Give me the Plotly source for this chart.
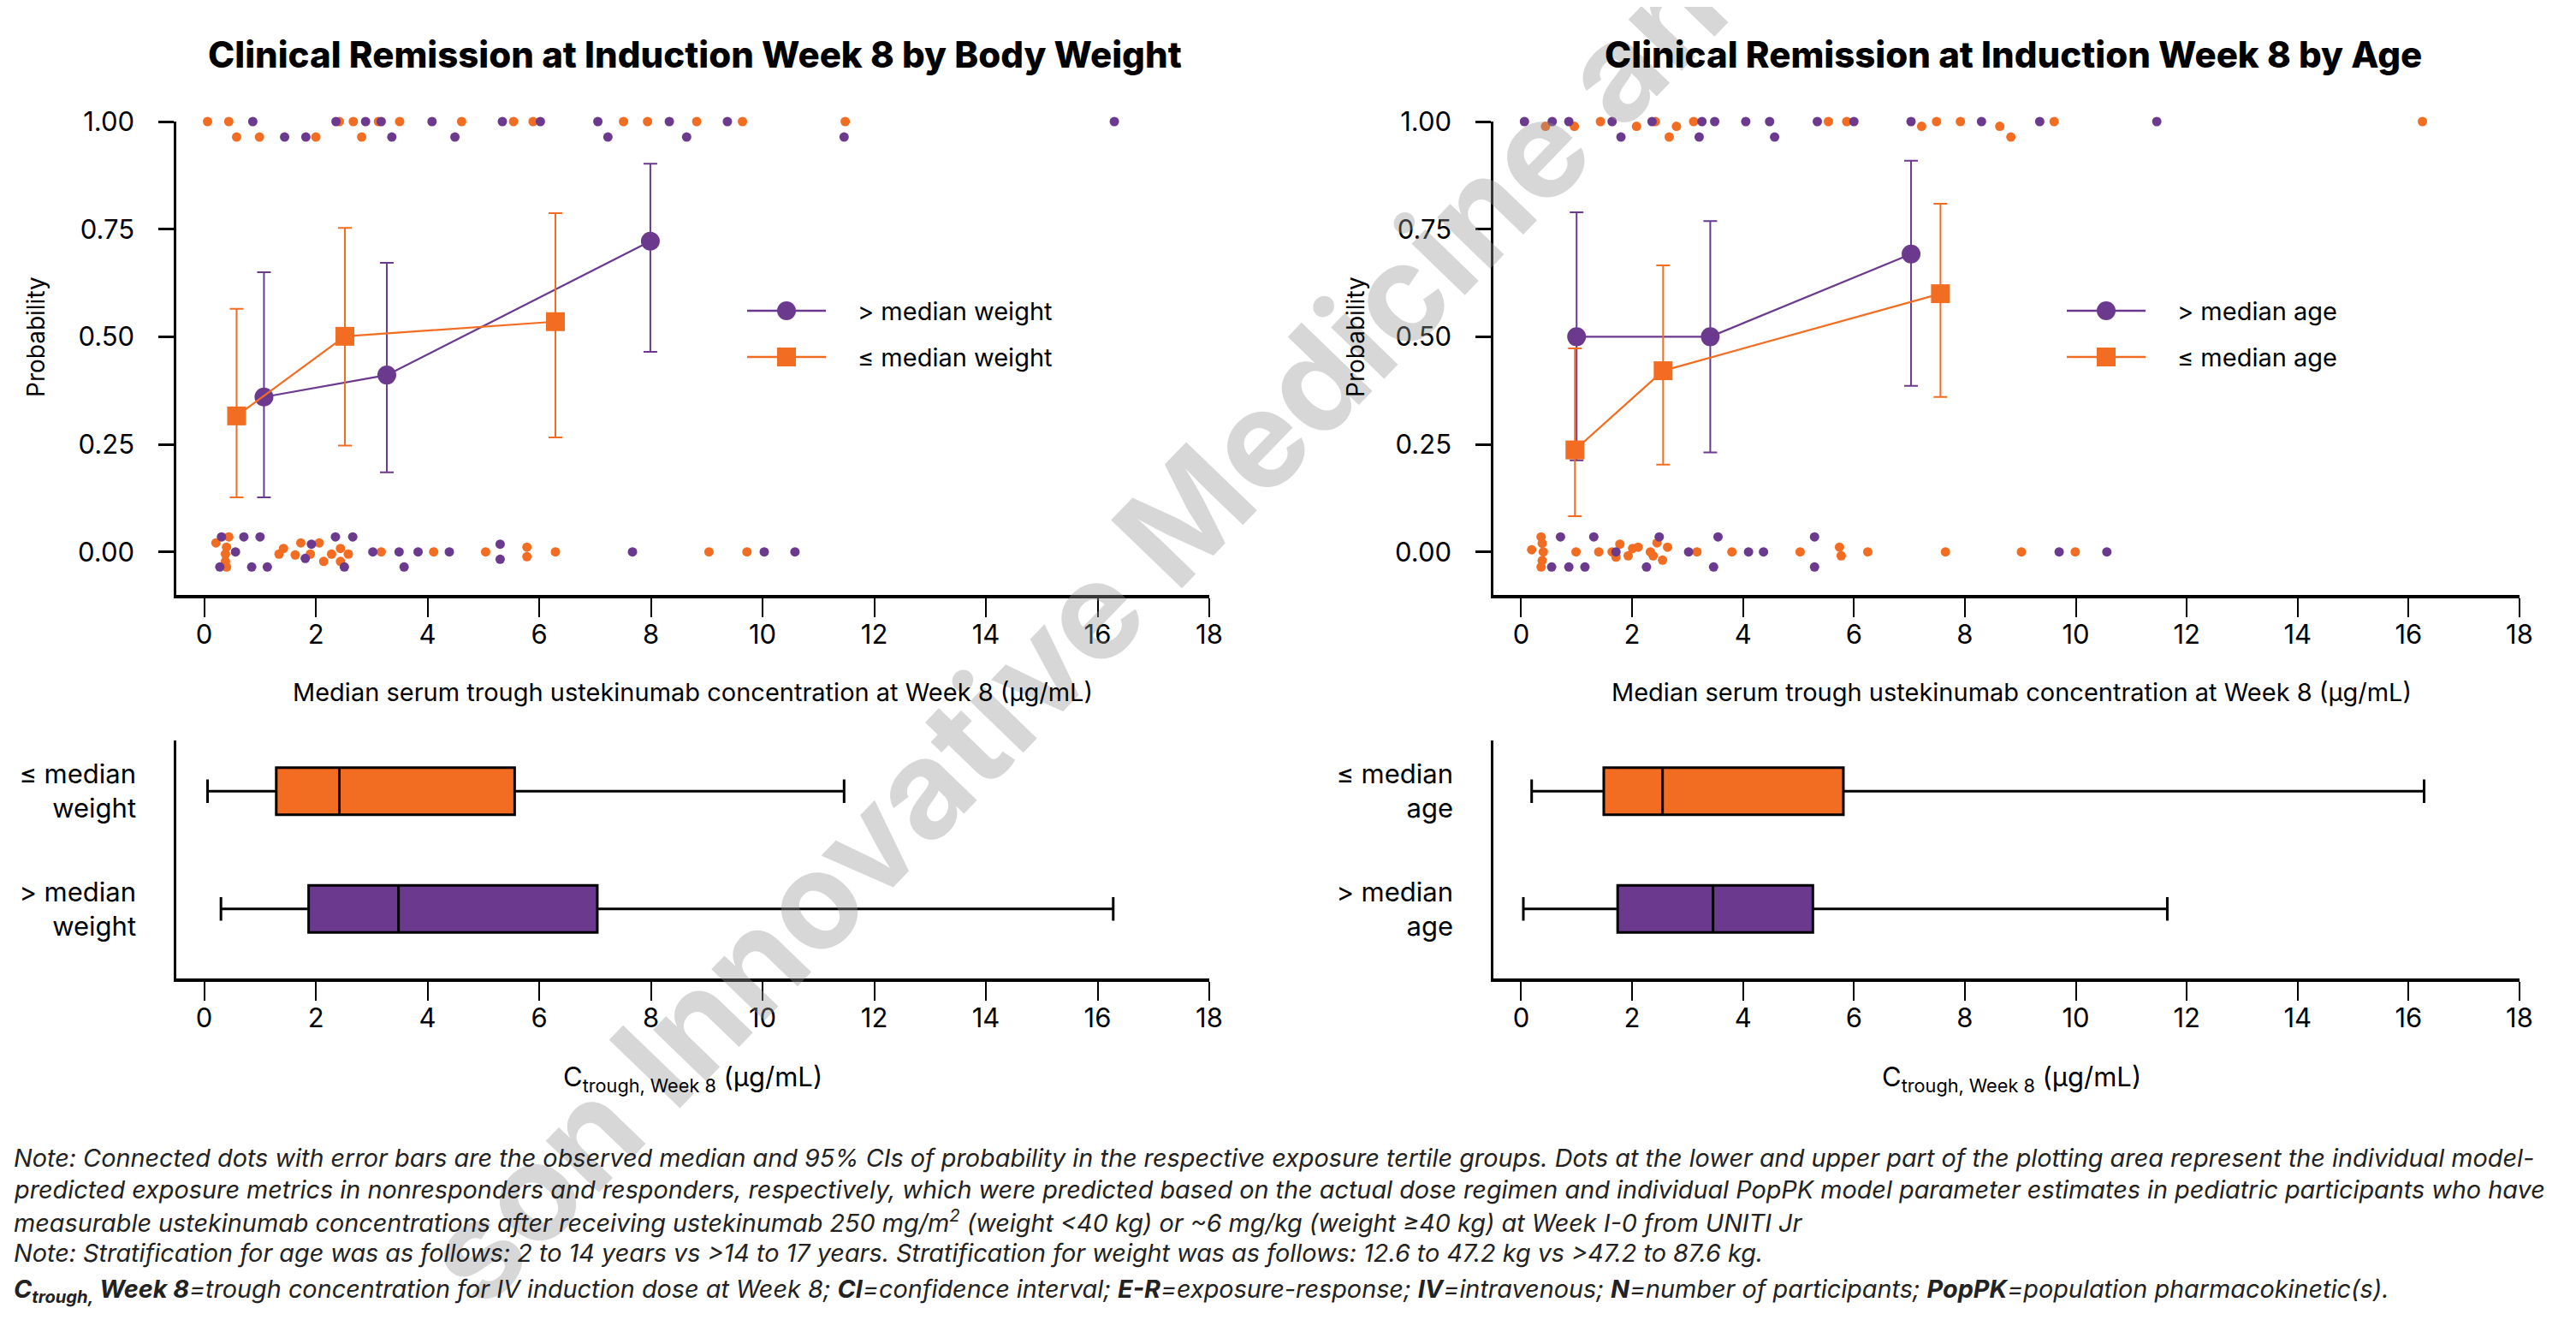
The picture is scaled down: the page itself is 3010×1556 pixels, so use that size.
import plotly.graph_objects as go

PURPLE = "#6B3A8F"
ORANGE = "#F26D21"
FONT = "Inter"

# ---------------- data ----------------
x_ticks = [0, 2, 4, 6, 8, 10, 12, 14, 16, 18]
y_ticks = [0, 0.25, 0.5, 0.75, 1.0]
y_ticktext = ["0.00", "0.25", "0.50", "0.75", "1.00"]

# Body weight: observed probability (median) and 95% CI per exposure tertile
wt_hi_x = [1.07, 3.27, 7.99]
wt_hi_p = [0.360, 0.411, 0.722]
wt_hi_lo = [0.127, 0.185, 0.465]
wt_hi_up = [0.650, 0.672, 0.902]
wt_lo_x = [0.58, 2.52, 6.29]
wt_lo_p = [0.316, 0.501, 0.535]
wt_lo_lo = [0.127, 0.247, 0.266]
wt_lo_up = [0.565, 0.753, 0.787]

# Age
age_hi_x = [1.00, 3.41, 7.03]
age_hi_p = [0.500, 0.500, 0.692]
age_hi_lo = [0.213, 0.231, 0.386]
age_hi_up = [0.789, 0.769, 0.909]
age_lo_x = [0.97, 2.56, 7.56]
age_lo_p = [0.237, 0.421, 0.600]
age_lo_lo = [0.083, 0.203, 0.360]
age_lo_up = [0.473, 0.666, 0.809]

# Individual predicted exposures (x) and vertical jitter offsets
wt_lo_resp_x = [0.53, 1.06, 2.10, 2.73, 0.06, 0.44, 2.42, 2.67, 3.12, 3.50, 4.61, 5.54, 5.89,
                7.51, 7.94, 8.82, 9.64, 11.48, 0.58, 0.99, 2.00, 2.82]
wt_lo_resp_j = [0.036, 0.036, 0.036, 0.036, 0, 0, 0, 0, 0, 0, 0, 0, 0,
                0, 0, 0, 0, 0, -0.036, -0.036, -0.036, -0.036]
wt_hi_resp_x = [1.63, 2.00, 3.26, 4.71, 7.10, 8.85, 11.67, 0.87, 2.36, 2.89, 3.17, 4.08, 5.34,
                6.02, 7.05, 8.33, 9.37, 16.30, 1.44, 1.82, 3.36, 4.49, 7.23, 8.64, 11.46]
wt_hi_resp_j = [0.036, 0.036, 0.036, 0.036, 0.036, 0.036, 0.036, 0, 0, 0, 0, 0, 0,
                0, 0, 0, 0, 0, -0.036, -0.036, -0.036, -0.036, -0.036, -0.036, -0.036]
wt_hi_non_x = [0.31, 0.71, 1.00, 2.35, 2.66, 1.92, 5.30, 0.56, 1.81, 3.02, 3.49, 3.83, 4.39,
               7.67, 10.03, 10.58, 0.28, 0.85, 1.13, 2.51, 3.58, 5.30]
wt_hi_non_j = [0.035, 0.035, 0.035, 0.035, 0.035, 0.018, 0.018, 0, -0.015, 0, 0, 0, 0,
               0, 0, 0, -0.035, -0.035, -0.035, -0.035, -0.035, -0.017]
wt_lo_non_x = [0.44, 0.40, 0.38, 0.38, 0.40, 0.21, 1.73, 2.06, 5.78, 5.78, 1.34, 1.42, 1.63,
               1.90, 2.14, 2.28, 2.44, 2.58, 2.44, 3.17, 4.11, 5.04, 6.29, 9.04, 9.72]
wt_lo_non_j = [0.035, 0.011, -0.005, -0.022, -0.035, 0.021, 0.021, 0.021, 0.011, -0.011, -0.005, 0.008, -0.007,
               -0.005, -0.022, -0.005, 0.008, -0.005, -0.022, 0, 0, 0, 0, 0, 0]

age_hi_resp_x = [0.06, 0.56, 0.86, 1.64, 1.80, 1.99, 2.36, 3.21, 3.26, 3.35, 3.49, 4.05, 4.48,
                 4.57, 4.69, 5.34, 6.00, 7.03, 8.30, 9.35, 11.46, 11.63]
age_hi_resp_j = [0, 0, 0, 0, -0.036, 0.036, 0, -0.036, 0, 0.036, 0, 0, 0,
                 -0.036, 0.036, 0, 0, 0, 0, 0, 0, 0.036]
age_lo_resp_x = [0.50, 0.44, 0.96, 1.05, 1.43, 1.99, 2.08, 2.42, 2.73, 2.67, 2.80, 2.88, 3.11,
                 5.54, 5.87, 7.08, 7.22, 7.49, 7.92, 8.63, 8.80, 8.83, 9.61, 16.25]
age_lo_resp_j = [0.013, -0.011, -0.011, 0.013, 0, 0.013, -0.011, 0, 0.036, -0.036, -0.011, 0.013, 0,
                 0, 0, 0.013, -0.011, 0, 0, -0.011, 0.013, -0.036, 0, 0]
age_hi_non_x = [0.71, 0.55, 0.86, 1.15, 1.31, 1.71, 2.26, 2.49, 3.02, 3.47, 3.55, 4.10, 4.37,
                5.29, 5.29, 9.70, 10.56]
age_hi_non_j = [0.035, -0.035, -0.035, -0.035, 0.035, 0, -0.035, 0.035, 0, -0.035, 0.035, 0, 0,
                0.035, -0.035, 0, 0]
age_lo_non_x = [0.19, 0.36, 0.38, 0.40, 0.38, 0.36, 0.99, 1.40, 1.64, 1.71, 1.78, 1.93, 2.01,
                2.11, 2.33, 2.38, 2.45, 2.55, 2.64, 3.17, 3.80, 5.03, 5.74, 5.77, 6.25, 7.65, 9.02, 9.99]
age_lo_non_j = [0.005, 0.035, 0.02, 0, -0.02, -0.035, 0, 0, 0, -0.012, 0.018, -0.009, 0.008,
                0.011, 0, -0.009, 0.021, -0.019, 0.011, 0, 0, 0, 0.011, -0.009, 0, 0, 0, 0]

# Box plot summaries: [min, Q1, median, Q3, max]
wt_box_lo = [0.06, 1.29, 2.42, 5.56, 11.46]
wt_box_hi = [0.30, 1.87, 3.48, 7.04, 16.28]
age_box_lo = [0.19, 1.49, 2.55, 5.81, 16.28]
age_box_hi = [0.04, 1.74, 3.46, 5.26, 11.65]

box_pos = [1, 2]
wt_box_labels = ["&gt; median<br>weight", "≤ median<br>weight"]
age_box_labels = ["&gt; median<br>age", "≤ median<br>age"]

wt_legend = ["&gt; median weight", "≤ median weight"]
age_legend = ["&gt; median age", "≤ median age"]

# ---------------- figure ----------------
W, H = 3010, 1556
OFF = 8  # page body margin offset
fig = go.Figure()


def px_x(v):
    return (v - OFF) / W


def px_y(v):
    return 1 - (v - OFF) / H


def add_panel(xa, ya, hi_x, hi_p, hi_lo, hi_up, lo_x, lo_p, lo_lo, lo_up, names,
              hr_x, hr_j, lr_x, lr_j, hn_x, hn_j, ln_x, ln_j):
    dot = dict(size=11, line=dict(width=0))
    for xs, js, base, col in ((lr_x, lr_j, 1, ORANGE), (hr_x, hr_j, 1, PURPLE),
                              (ln_x, ln_j, 0, ORANGE), (hn_x, hn_j, 0, PURPLE)):
        fig.add_trace(go.Scatter(x=xs, y=[base + j for j in js], mode="markers", xaxis=xa, yaxis=ya,
                                 marker=dict(color=col, **dot), showlegend=False, cliponaxis=False,
                                 hoverinfo="skip"))
    fig.add_trace(go.Scatter(
        x=hi_x, y=hi_p, mode="lines+markers", name=names[0], xaxis=xa, yaxis=ya,
        showlegend=False, cliponaxis=False,
        line=dict(color=PURPLE, width=2.2),
        marker=dict(symbol="circle", size=22, color=PURPLE),
        error_y=dict(type="data", symmetric=False,
                     array=[u - p for u, p in zip(hi_up, hi_p)],
                     arrayminus=[p - l for l, p in zip(hi_lo, hi_p)],
                     color=PURPLE, thickness=2, width=8)))
    fig.add_trace(go.Scatter(
        x=lo_x, y=lo_p, mode="lines+markers", name=names[1], xaxis=xa, yaxis=ya,
        showlegend=False, cliponaxis=False,
        line=dict(color=ORANGE, width=2.2),
        marker=dict(symbol="square", size=22, color=ORANGE),
        error_y=dict(type="data", symmetric=False,
                     array=[u - p for u, p in zip(lo_up, lo_p)],
                     arrayminus=[p - l for l, p in zip(lo_lo, lo_p)],
                     color=ORANGE, thickness=2, width=8)))


add_panel("x", "y", wt_hi_x, wt_hi_p, wt_hi_lo, wt_hi_up, wt_lo_x, wt_lo_p, wt_lo_lo, wt_lo_up,
          wt_legend, wt_hi_resp_x, wt_hi_resp_j, wt_lo_resp_x, wt_lo_resp_j,
          wt_hi_non_x, wt_hi_non_j, wt_lo_non_x, wt_lo_non_j)
add_panel("x2", "y2", age_hi_x, age_hi_p, age_hi_lo, age_hi_up, age_lo_x, age_lo_p, age_lo_lo, age_lo_up,
          age_legend, age_hi_resp_x, age_hi_resp_j, age_lo_resp_x, age_lo_resp_j,
          age_hi_non_x, age_hi_non_j, age_lo_non_x, age_lo_non_j)


def add_box(xa, ya, stats, pos, color):
    fig.add_trace(go.Box(
        y=[pos], q1=[stats[1]], median=[stats[2]], q3=[stats[3]],
        lowerfence=[stats[0]], upperfence=[stats[4]], orientation="h",
        xaxis=xa, yaxis=ya, fillcolor=color, line=dict(color="black", width=3),
        width=0.4, whiskerwidth=0.5, boxpoints=False, showlegend=False, hoverinfo="skip"))


add_box("x3", "y3", wt_box_hi, box_pos[0], PURPLE)
add_box("x3", "y3", wt_box_lo, box_pos[1], ORANGE)
add_box("x4", "y4", age_box_hi, box_pos[0], PURPLE)
add_box("x4", "y4", age_box_lo, box_pos[1], ORANGE)

# ---------------- axes ----------------
xl = [px_x(206), px_x(1413)]
xr = [px_x(1745), px_x(2944)]
yt = [px_y(695), px_y(142)]
yb = [px_y(1143), px_y(865)]

tickfont = dict(family=FONT, size=31, color="black")
xcommon = dict(range=[-0.5, 18], tickmode="array", tickvals=x_ticks, ticks="outside", ticklen=22,
               tickwidth=2, tickcolor="black", showline=True, linewidth=4, linecolor="black",
               showgrid=False, zeroline=False, tickfont=tickfont, fixedrange=True, automargin=False,
               ticklabelstandoff=-6)
ycommon = dict(ticks="outside", ticklen=18, tickwidth=3, tickcolor="black", showline=True,
               linewidth=2.5, linecolor="black", showgrid=False, zeroline=False,
               tickfont=tickfont, fixedrange=True, automargin=False)
yboxcommon = dict(ycommon, ticks="", ticklen=0, ticklabelstandoff=38, range=[0.41, 2.43],
                  tickmode="array", tickvals=box_pos)

fig.update_layout(
    template="none",
    xaxis=dict(domain=xl, anchor="y", **xcommon),
    yaxis=dict(domain=yt, anchor="x", range=[-0.1, 1.0], tickmode="array", tickvals=y_ticks,
               ticktext=y_ticktext, ticklabelstandoff=22, **ycommon),
    xaxis2=dict(domain=xr, anchor="y2", **xcommon),
    yaxis2=dict(domain=yt, anchor="x2", range=[-0.1, 1.0], tickmode="array", tickvals=y_ticks,
                ticktext=y_ticktext, ticklabelstandoff=22, **ycommon),
    xaxis3=dict(domain=xl, anchor="y3", **xcommon),
    yaxis3=dict(domain=yb, anchor="x3", ticktext=wt_box_labels, **yboxcommon),
    xaxis4=dict(domain=xr, anchor="y4", **xcommon),
    yaxis4=dict(domain=yb, anchor="x4", ticktext=age_box_labels, **yboxcommon),
    showlegend=False,
)

# ---------------- annotations & legend symbols ----------------
ann = []
shapes = []

# watermark (first, so other texts sit above it)
ann.append(dict(text="son Innovative Medicine and", x=px_x(1288), y=px_y(700), xref="paper", yref="paper",
                xanchor="center", yanchor="middle", showarrow=False, textangle=-46,
                font=dict(family=FONT, size=158, color="rgba(150,150,150,0.38)", weight=700)))

title_font = dict(family=FONT, size=42, color="black", weight=800)
ann.append(dict(text="Clinical Remission at Induction Week 8 by Body Weight", x=px_x(812), y=px_y(63),
                xref="paper", yref="paper", xanchor="center", yanchor="middle", showarrow=False, font=title_font))
ann.append(dict(text="Clinical Remission at Induction Week 8 by Age", x=px_x(2352), y=px_y(63),
                xref="paper", yref="paper", xanchor="center", yanchor="middle", showarrow=False, font=title_font))
for xc in (42, 1584):
    ann.append(dict(text="Probability", x=px_x(xc), y=px_y(394), xref="paper", yref="paper",
                    xanchor="center", yanchor="middle", showarrow=False, textangle=-90,
                    font=dict(family=FONT, size=28, color="black")))
for xc in (809, 2350):
    ann.append(dict(text="Median serum trough ustekinumab concentration at Week 8 (µg/mL)",
                    x=px_x(xc), y=px_y(808), xref="paper", yref="paper", xanchor="center", yanchor="middle",
                    showarrow=False, font=dict(family=FONT, size=29, color="black")))
    ann.append(dict(text="C<sub>trough, Week 8</sub> (µg/mL)",
                    x=px_x(xc), y=px_y(1260), xref="paper", yref="paper", xanchor="center", yanchor="middle",
                    showarrow=False, font=dict(family=FONT, size=31, color="black")))

# legends (drawn manually: long line with large centred marker)
for x0, labels in ((873, wt_legend), (2415, age_legend)):
    for (yc, col, sym), lab in zip(((363, PURPLE, "circle"), (417, ORANGE, "square")), labels):
        shapes.append(dict(type="line", xref="paper", yref="paper", x0=px_x(x0), x1=px_x(x0 + 92),
                           y0=px_y(yc), y1=px_y(yc), line=dict(color=col, width=2.5)))
        cx = x0 + 46
        r = 11
        shapes.append(dict(type="circle" if sym == "circle" else "rect", xref="paper", yref="paper",
                           x0=px_x(cx - r), x1=px_x(cx + r), y0=px_y(yc + r), y1=px_y(yc - r),
                           fillcolor=col, line=dict(width=0)))
        ann.append(dict(text=lab, x=px_x(x0 + 127), y=px_y(yc), xref="paper", yref="paper",
                        xanchor="left", yanchor="middle", showarrow=False,
                        font=dict(family=FONT, size=29, color="black")))

notes = [
    "Note: Connected dots with error bars are the observed median and 95% CIs of probability in the respective exposure tertile groups. Dots at the lower and upper part of the plotting area represent the individual model-",
    "predicted exposure metrics in nonresponders and responders, respectively, which were predicted based on the actual dose regimen and individual PopPK model parameter estimates in pediatric participants who have",
    "measurable ustekinumab concentrations after receiving ustekinumab 250 mg/m<sup>2</sup> (weight &lt;40 kg) or ~6 mg/kg (weight ≥40 kg) at Week I-0 from UNITI Jr",
    "Note: Stratification for age was as follows: 2 to 14 years vs &gt;14 to 17 years. Stratification for weight was as follows: 12.6 to 47.2 kg vs &gt;47.2 to 87.6 kg.",
    "<b>C<sub>trough,</sub> Week 8</b>=trough concentration for IV induction dose at Week 8; <b>CI</b>=confidence interval; <b>E-R</b>=exposure-response; <b>IV</b>=intravenous; <b>N</b>=number of participants; <b>PopPK</b>=population pharmacokinetic(s).",
]
note_y = [1352, 1389, 1426, 1463, 1507]
for t, yy in zip(notes, note_y):
    ann.append(dict(text="<i>" + t + "</i>", x=px_x(14), y=px_y(yy), xref="paper", yref="paper",
                    xanchor="left", yanchor="middle", showarrow=False,
                    font=dict(family=FONT, size=28.8, color="#222222")))

fig.update_layout(annotations=ann, shapes=shapes, width=W, height=H, margin=dict(l=0, r=0, t=0, b=0),
                  paper_bgcolor="white", plot_bgcolor="white",
                  font=dict(family=FONT, color="black"))

fig.write_html("out.html")
